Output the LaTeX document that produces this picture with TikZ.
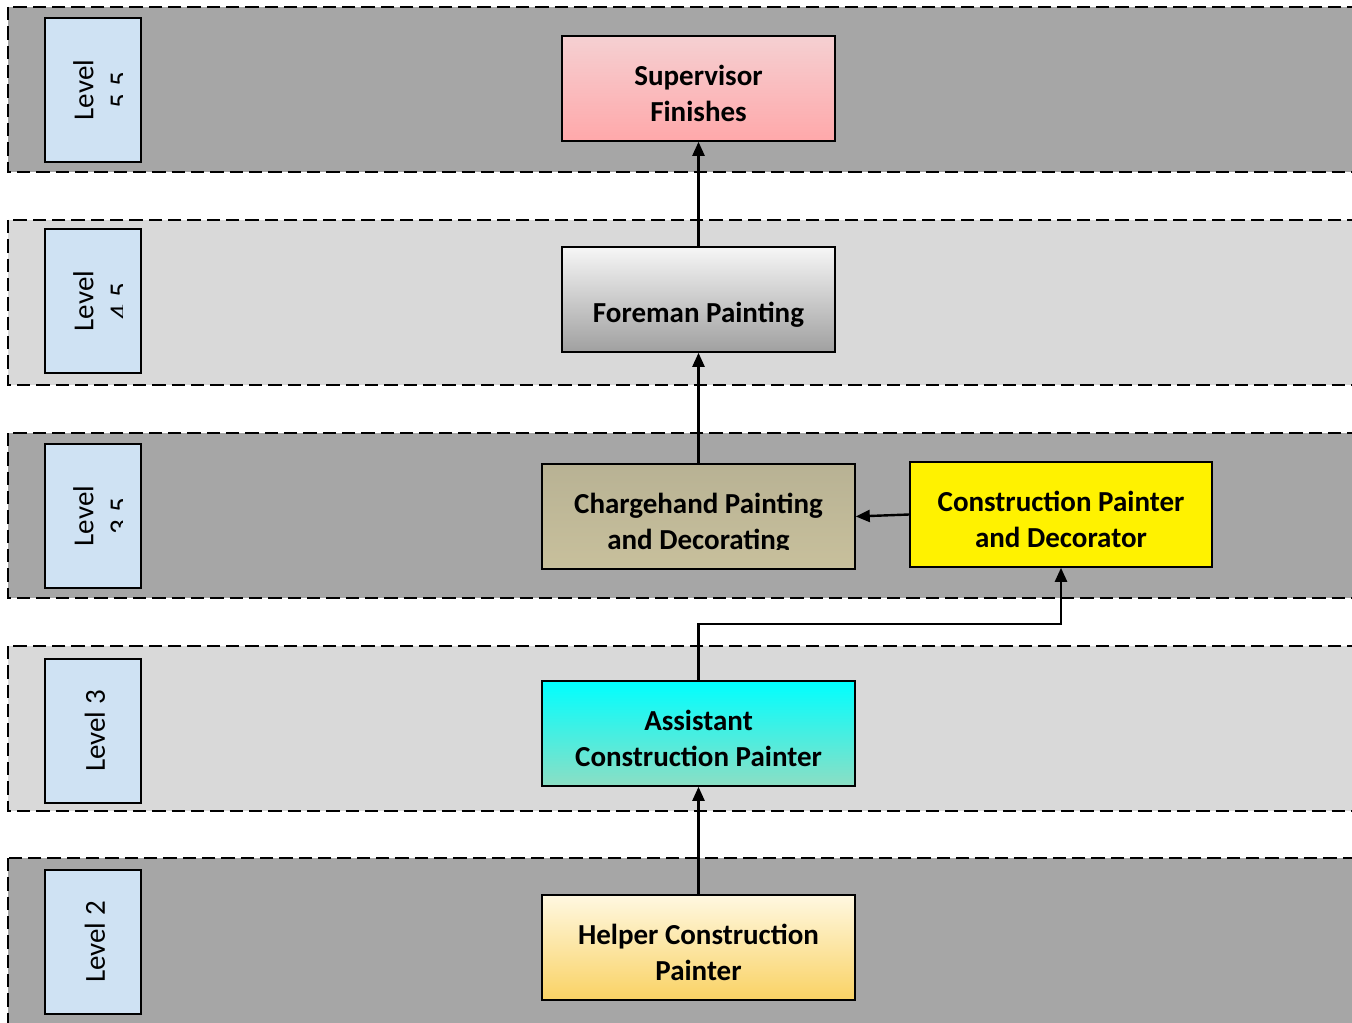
\documentclass[tikz,border=0pt]{standalone}
\usepackage{fontspec}
\setmainfont{Carlito}
\usetikzlibrary{arrows.meta,positioning}
\definecolor{banddark}{RGB}{166,166,166}
\definecolor{bandlight}{RGB}{217,217,217}
\definecolor{levelblue}{RGB}{207,226,243}
\definecolor{pinktop}{RGB}{245,208,210}
\definecolor{pinkbottom}{RGB}{255,168,170}
\definecolor{greytop}{RGB}{246,246,246}
\definecolor{greybottom}{RGB}{160,160,160}
\definecolor{khakitop}{RGB}{184,178,148}
\definecolor{khakibottom}{RGB}{200,192,156}
\definecolor{aquatop}{RGB}{0,255,255}
\definecolor{aquabottom}{RGB}{140,222,196}
\definecolor{creamtop}{RGB}{255,248,225}
\definecolor{creambottom}{RGB}{249,210,100}
\tikzset{
  level band/.style={draw=black, line width=2pt, dash pattern=on 10pt off 4.5pt},
  level tag/.style={
    rectangle, draw=black, line width=1.4pt, fill=levelblue,
    minimum width=72pt, minimum height=108pt
  },
  level text/.style={rotate=90, align=center, inner sep=0pt,
    font={\fontsize{21.75pt}{27pt}\selectfont}},
  rank box/.style={
    rectangle, draw=black, line width=1.2pt, align=center,
    minimum height=78.75pt, inner sep=2pt,
    text height=49.5pt, text depth=0pt,
    font={\fontsize{21.75pt}{27pt}\selectfont\bfseries}
  },
  rank arrow/.style={-{Triangle[length=10.5pt,width=9pt]}, line width=1.8pt}
}

\begin{document}
\begin{tikzpicture}[x=0.75pt, y=-0.75pt]
    \clip (0,0) rectangle (1352,1023);
    % level bands
    \draw[level band, fill=banddark] (8,7) rectangle (1370,172);
    \draw[level band, fill=bandlight] (8,220) rectangle (1370,385);
    \draw[level band, fill=banddark] (8,433) rectangle (1370,598);
    \draw[level band, fill=bandlight] (8,646) rectangle (1370,811);
    \draw[level band, fill=banddark] (8,858) rectangle (1370,1040);
    % level tags
    \node[level tag] (tag55) at (93,90) {};
    \node[level tag] (tag45) at (93,301) {};
    \node[level tag] (tag35) at (93,516) {};
    \node[level tag] (tag3) at (93,731) {};
    \node[level tag] (tag2) at (93,942) {};
    \begin{scope}
      \clip (45,0) rectangle (122,1023);
      \node[level text] (text55) at (101.5,90) {Level\\5.5};
      \node[level text] (text45) at (101.5,301) {Level\\4.5};
      \node[level text] (text35) at (101.5,516) {Level\\3.5};
    \end{scope}
    \node[level text] (text3) at (95,731) {Level 3};
    \node[level text] (text2) at (95,942) {Level 2};
    % ranks
    \node[rank box, minimum width=204.75pt, top color=pinktop, bottom color=pinkbottom] (sup) at (698.5,88.5) {Supervisor\\Finishes};
    \node[rank box, minimum width=204.75pt, top color=greytop, bottom color=greybottom,
      text height=34pt] (fore) at (698.5,299.5) {Foreman Painting};
    \node[rank box, minimum width=234.75pt, top color=khakitop, bottom color=khakibottom] (charge) at (698.5,516.5) {};
    \begin{scope}
      \clip (542,464) rectangle (855,549);
      \node[rank box, draw=none] (chargetext) at (charge.center) {Chargehand Painting\\and Decorating};
    \end{scope}
    \node[rank box, minimum width=226.5pt, fill=yellow] (constr) at (1061,514.5) {Construction Painter\\and Decorator};
    \node[rank box, minimum width=234.75pt, top color=aquatop, bottom color=aquabottom] (assist) at (698.5,733.5) {Assistant\\Construction Painter};
    \node[rank box, minimum width=234.75pt, top color=creamtop, bottom color=creambottom] (helper) at (698.5,947.5) {Helper Construction\\Painter};
    % promotions
    \coordinate (turn) at (698.5,624);
    \draw[rank arrow] (fore) -- (sup);
    \draw[rank arrow] (charge) -- (fore);
    \draw[rank arrow] (constr.west) -- (charge.east);
    \draw[rank arrow] (assist.north) -- (turn) -| (constr.south);
    \draw[rank arrow] (helper) -- (assist);
  \end{tikzpicture}
\end{document}
